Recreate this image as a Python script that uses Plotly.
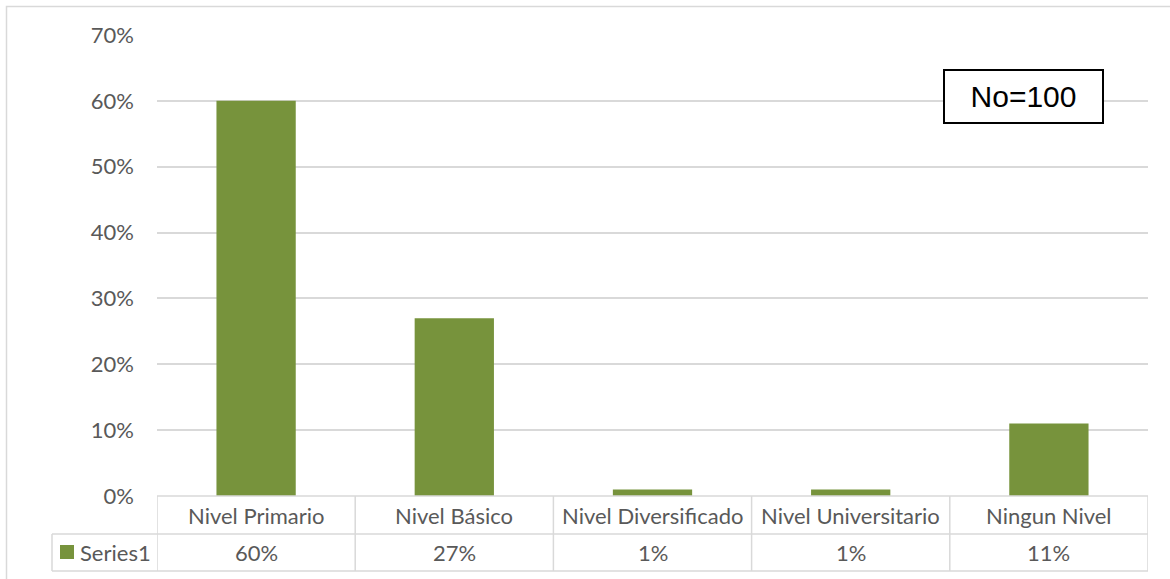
import plotly.graph_objects as go

# Education level distribution (share of respondents)
categories = ["Nivel Primario", "Nivel Básico", "Nivel Diversificado",
              "Nivel Universitario", "Ningun Nivel"]
values = [0.60, 0.27, 0.01, 0.01, 0.11]
series_name = "Series1"
y_ticks = [0, 0.1, 0.2, 0.3, 0.4, 0.5, 0.6, 0.7]
y_tick_labels = ["0%", "10%", "20%", "30%", "40%", "50%", "60%", "70%"]
sample_note = "No=100"

W, H = 1170, 579
BAR = "#77933C"
TXT = "#595959"
GRID = "#D9D9D9"
FONT = "Lato, Carlito, Calibri, sans-serif"
FS = 22


def px(x):
    return x / W


def py(y):
    return 1 - y / H


plot_left, plot_right = 157, 1148
plot_top, plot_bottom = 35, 496
row1_bottom, row2_bottom = 534, 571
table_left = 52

fig = go.Figure(go.Bar(
    x=list(range(len(categories))),
    y=values,
    marker=dict(color=BAR, line=dict(width=0)),
    name=series_name,
    showlegend=False,
    hoverinfo="skip",
))

shapes = []
line = dict(color=GRID, width=1.5)
# outer chart frame
shapes.append(dict(type="rect", xref="paper", yref="paper",
                   x0=px(6.5), x1=px(W + 20), y0=py(H + 20), y1=py(6.5),
                   line=dict(color=GRID, width=1.5), layer="below"))
# table horizontal rules
shapes.append(dict(type="line", xref="paper", yref="paper",
                   x0=px(plot_left), x1=px(plot_right), y0=py(plot_bottom), y1=py(plot_bottom), line=line))
for yy in (row1_bottom, row2_bottom):
    shapes.append(dict(type="line", xref="paper", yref="paper",
                       x0=px(table_left), x1=px(plot_right), y0=py(yy), y1=py(yy), line=line))
# table vertical rules at category boundaries
for i in range(len(categories) + 1):
    shapes.append(dict(type="line", xref="x", yref="paper",
                       x0=i - 0.5, x1=i - 0.5, y0=py(row2_bottom), y1=py(plot_bottom), line=line))
shapes.append(dict(type="line", xref="paper", yref="paper",
                   x0=px(table_left), x1=px(table_left), y0=py(row2_bottom), y1=py(row1_bottom), line=line))
# legend key in the table
shapes.append(dict(type="rect", xref="paper", yref="paper",
                   x0=px(60), x1=px(74), y0=py(559), y1=py(545),
                   fillcolor=BAR, line=dict(width=0)))

annotations = []
row1_mid = (plot_bottom + row1_bottom) / 2
row2_mid = (row1_bottom + row2_bottom) / 2
for i, (c, v) in enumerate(zip(categories, values)):
    annotations.append(dict(x=i, xref="x", y=py(row1_mid), yref="paper", text=c,
                            showarrow=False, font=dict(family=FONT, size=FS, color=TXT),
                            xanchor="center", yanchor="middle"))
    annotations.append(dict(x=i, xref="x", y=py(row2_mid), yref="paper",
                            text=f"{round(v * 100)}%",
                            showarrow=False, font=dict(family=FONT, size=FS, color=TXT),
                            xanchor="center", yanchor="middle"))
annotations.append(dict(x=px(78), xref="paper", y=py(row2_mid), yref="paper", text=series_name,
                        showarrow=False, font=dict(family=FONT, size=FS, color=TXT),
                        xanchor="left", yanchor="middle"))
annotations.append(dict(x=px(1023.5), xref="paper", y=py(96.5), yref="paper", text=sample_note,
                        showarrow=False, font=dict(family="Liberation Sans, Arial", size=30, color="black"),
                        xanchor="center", yanchor="middle", width=157, height=51,
                        bordercolor="black", borderwidth=2, bgcolor="white", borderpad=0))

fig.update_layout(
    width=W, height=H,
    margin=dict(l=0, r=0, t=0, b=0, autoexpand=False),
    paper_bgcolor="white", plot_bgcolor="white",
    bargap=0.6,
    shapes=shapes,
    annotations=annotations,
    xaxis=dict(domain=[px(plot_left), px(plot_right)], range=[-0.5, len(categories) - 0.5],
               showticklabels=False, showgrid=False, zeroline=False, showline=False, ticks="",
               automargin=False),
    yaxis=dict(domain=[py(plot_bottom), py(plot_top)], range=[0, 0.7],
               tickvals=y_ticks, ticktext=y_tick_labels,
               tickfont=dict(family=FONT, size=FS, color=TXT),
               showgrid=True, gridcolor=GRID, gridwidth=1.5,
               zeroline=False, showline=False, ticks="", ticklabelstandoff=22,
               automargin=False),
)

fig.write_html("out.html")
